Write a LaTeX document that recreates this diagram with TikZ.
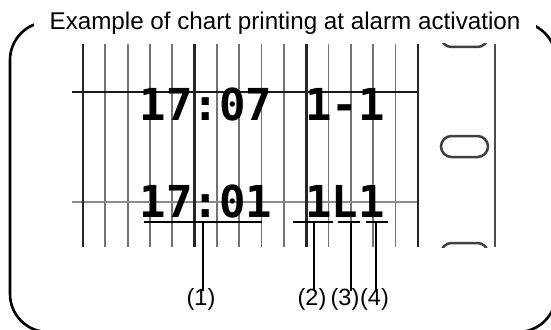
\documentclass[tikz,border=0pt]{standalone}
\usepackage{fontspec}
\setmainfont{Liberation Sans}
\newfontfamily\dotfont{DejaVu Sans Mono}
\begin{document}
\begin{tikzpicture}[x=1pt,y=-1pt,
  frame/.style={line width=2.6pt, rounded corners=38pt},
  minor/.style={line width=1.7pt, black!55},
  major/.style={line width=2.4pt, black!85},
  hline/.style={line width=2pt},
  dots/.style={font=\dotfont\bfseries\fontsize{44}{44}\selectfont, inner sep=0pt, anchor=base},
  lbl/.style={font=\fontsize{23.5}{23.5}\selectfont, inner sep=0pt, anchor=base},
  ttl/.style={font=\fontsize{24.2}{24.2}\selectfont, inner sep=0pt, anchor=base},
  lead/.style={line width=2pt, black},
  pill/.style={line width=2.5pt, black!75, rounded corners=10.5pt},
]
\useasboundingbox (0,0) rectangle (551,329);
% outer frame
\draw[frame] (10,22) rectangle (556,332);
\node[ttl, fill=white, inner xsep=16pt, inner ysep=3pt] (title) at (285,30) {Example of chart printing at alarm activation};
% chart grid
\foreach \k in {1,2,3,4,6,7,8,9,11,12,13,14}
  \draw[minor] ({83+22.33*\k},44) -- ({83+22.33*\k},247);
\draw[hline, black!90] (72,92) -- (418,92);
\draw[hline, black!45] (72,202) -- (418,202);
\foreach \k in {0,5,10,15}
  \draw[major] ({83+22.33*\k},44) -- ({83+22.33*\k},247);
% strip edge with holes
\draw[major, black!70] (495,44) -- (495,247);
\begin{scope}
  \clip (420,44) rectangle (500,247);
  \draw[pill] (441,26) rectangle (488,47);
  \draw[pill] (441,136) rectangle (488,157);
  \draw[pill] (441,243) rectangle (488,264);
\end{scope}
% printed texts
\node[dots] (t1) at (206,120) {17:07};
\node[dots] (s1) at (345,120) {1-1};
\node[dots] (t2) at (206,217) {17:01};
\node[dots] (s2) at (345,217) {1L1};
% labels
\node[lbl] (l1) at (201,305) {(1)};
\node[lbl] (l2) at (312,305) {(2)};
\node[lbl] (l3) at (345,305) {(3)};
\node[lbl] (l4) at (374.5,305) {(4)};
% underline coordinates
\coordinate (u1a) at (144,222); \coordinate (u1b) at (262,222); \coordinate (u1) at (203,222);
\coordinate (u2a) at (293,222); \coordinate (u2b) at (333,222); \coordinate (u2) at (314,222);
\coordinate (u3a) at (338,222); \coordinate (u3b) at (360,222); \coordinate (u3) at (351,222);
\coordinate (u4a) at (366,222); \coordinate (u4b) at (388,222); \coordinate (u4) at (376,222);
\foreach \i in {1,2,3,4}{
  \draw[lead] (u\i a) -- (u\i b);
  \draw[lead] (u\i) -- ([yshift=-3pt]u\i |- l\i.north);
}
\end{tikzpicture}
\end{document}
